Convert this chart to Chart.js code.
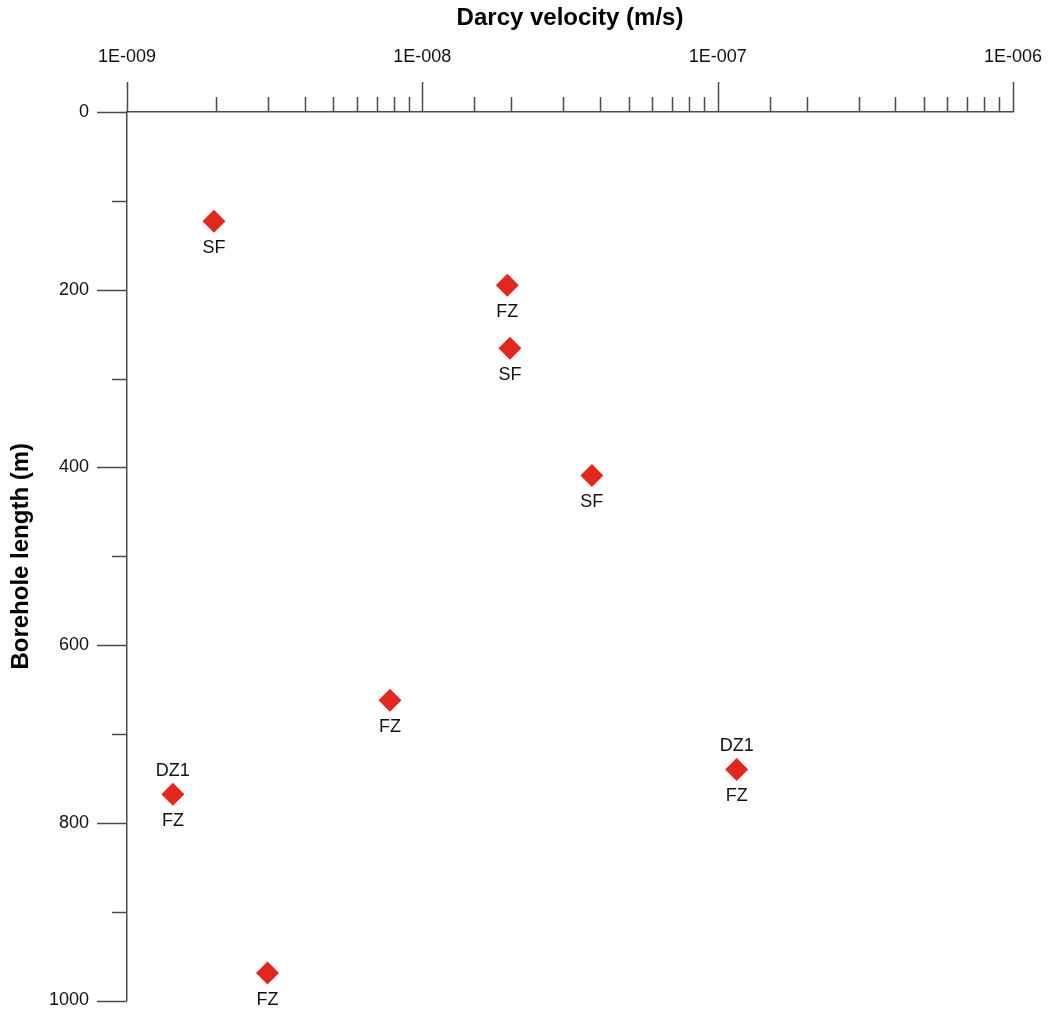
<!DOCTYPE html>
<html>
<head>
<meta charset="utf-8">
<title>Darcy velocity vs borehole length</title>
<script src="https://cdn.jsdelivr.net/npm/chart.js@4/dist/chart.umd.min.js"></script>
<style>
  html, body { margin: 0; padding: 0; background: #fff; }
  #wrap { position: relative; width: 1051px; height: 1012px; }
</style>
</head>
<body>
<div id="wrap"><canvas id="darcyChart"></canvas></div>
<script>
// Measured flow per borehole section
const velocity = [1.97e-9, 1.94e-8, 1.98e-8, 3.75e-8, 7.77e-9, 1.43e-9, 1.16e-7, 2.99e-9];
const depth = [123, 195, 266, 409, 662, 768, 740, 969];
const upperTags = ["", "", "", "", "", "DZ1", "DZ1", ""];
const lowerTags = ["SF", "FZ", "SF", "SF", "FZ", "FZ", "FZ", "FZ"];

const FONT = "'Liberation Sans', Arial, sans-serif";
const AXIS_COLOR = "#4a4a4a";
const MARK_COLOR = "#e3271f";

function isDecade(v) {
  const e = Math.log10(v);
  return Math.abs(e - Math.round(e)) < 1e-6;
}

function sciLabel(v) {
  const e = Math.round(Math.log10(v));
  const sign = e < 0 ? "-" : "+";
  return "1E" + sign + String(Math.abs(e)).padStart(3, "0");
}

// tick marks: long for labelled ticks, short for the rest
const tickMarks = {
  id: "tickMarks",
  afterDraw(chart) {
    const { ctx, chartArea } = chart;
    const xs = chart.scales.x;
    const ys = chart.scales.y;
    ctx.save();
    ctx.strokeStyle = AXIS_COLOR;
    ctx.lineWidth = 1.5;
    ctx.beginPath();
    xs.ticks.forEach(t => {
      const px = Math.round(xs.getPixelForValue(t.value)) + 0.5;
      const len = isDecade(t.value) ? 30 : 15;
      ctx.moveTo(px, chartArea.top);
      ctx.lineTo(px, chartArea.top - len);
    });
    ys.ticks.forEach(t => {
      const py = Math.round(ys.getPixelForValue(t.value)) + 0.5;
      const len = t.value % 200 === 0 ? 30 : 15;
      ctx.moveTo(chartArea.left, py);
      ctx.lineTo(chartArea.left - len, py);
    });
    ctx.stroke();
    ctx.restore();
  }
};

// zone tags above / below each marker
const pointTags = {
  id: "pointTags",
  afterDatasetsDraw(chart) {
    const { ctx } = chart;
    const meta = chart.getDatasetMeta(0);
    ctx.save();
    ctx.font = "18px " + FONT;
    ctx.fillStyle = "#111";
    ctx.textAlign = "center";
    ctx.textBaseline = "middle";
    meta.data.forEach((pt, i) => {
      if (upperTags[i]) ctx.fillText(upperTags[i], pt.x, pt.y - 23);
      if (lowerTags[i]) ctx.fillText(lowerTags[i], pt.x, pt.y + 27);
    });
    ctx.restore();
  }
};

new Chart(document.getElementById("darcyChart"), {
  type: "scatter",
  data: {
    datasets: [{
      label: "Darcy velocity",
      data: velocity.map((v, i) => ({ x: v, y: depth[i] })),
      pointStyle: "rectRot",
      pointRadius: 11.5,
      pointHoverRadius: 11.5,
      borderWidth: 0,
      backgroundColor: MARK_COLOR,
      clip: false
    }]
  },
  options: {
    responsive: true,
    maintainAspectRatio: false,
    animation: false,
    layout: { padding: { left: 0, top: 0, right: 38, bottom: 11 } },
    plugins: {
      legend: { display: false },
      tooltip: { enabled: false }
    },
    scales: {
      x: {
        type: "logarithmic",
        position: "top",
        min: 1e-9,
        max: 1e-6,
        afterFit: s => { s.height = 112; },
        // tick marks themselves come from the tickMarks plugin
        grid: { display: true, drawOnChartArea: false, drawTicks: true, tickLength: 44, tickColor: "rgba(0,0,0,0)" },
        border: { display: true, color: AXIS_COLOR, width: 1.5 },
        ticks: {
          autoSkip: false,
          maxRotation: 0,
          padding: 0,
          color: "#111",
          font: { family: FONT, size: 18 },
          callback: v => (isDecade(v) ? sciLabel(v) : "")
        },
        title: {
          display: true,
          text: "Darcy velocity (m/s)",
          color: "#000",
          padding: { top: 4, bottom: 0 },
          font: { family: FONT, size: 24, weight: "bold" }
        }
      },
      y: {
        type: "linear",
        reverse: true,
        min: 0,
        max: 1000,
        afterFit: s => { s.width = 127; },
        grid: { display: true, drawOnChartArea: false, drawTicks: true, tickLength: 38, tickColor: "rgba(0,0,0,0)" },
        border: { display: true, color: AXIS_COLOR, width: 1.5 },
        ticks: {
          stepSize: 100,
          autoSkip: false,
          padding: 0,
          color: "#111",
          font: { family: FONT, size: 18 },
          callback: v => (v % 200 === 0 ? String(v) : "")
        },
        title: {
          display: true,
          text: "Borehole length (m)",
          color: "#000",
          padding: { top: 7, bottom: 0 },
          font: { family: FONT, size: 24, weight: "bold" }
        }
      }
    }
  },
  plugins: [tickMarks, pointTags]
});
</script>
</body>
</html>
